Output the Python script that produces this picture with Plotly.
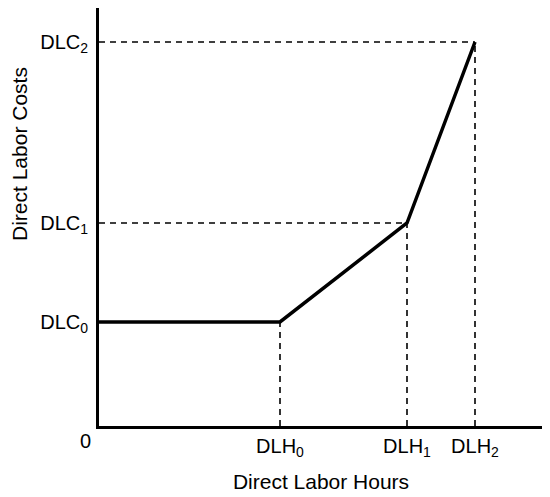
import plotly.graph_objects as go

# Read values (arbitrary units as drawn)
hours = [0, 181, 308, 376]
costs = [104, 104, 203, 384]
x_tick_labels = ["DLH<sub>0</sub>", "DLH<sub>1</sub>", "DLH<sub>2</sub>"]
y_tick_labels = ["DLC<sub>0</sub>", "DLC<sub>1</sub>", "DLC<sub>2</sub>"]
origin_label = "0"
x_title = "Direct Labor Hours"
y_title = "Direct Labor Costs"

FONT = "Liberation Sans, Arial, sans-serif"
TICK = 20
TITLE = 21

# page body has an 8px default margin; size the figure to fit the window
W, H = 542, 489
L, T = 91, 0
PW, PH = 444, 418

fig = go.Figure()

dash_style = dict(color="black", width=1.6, dash="6px,5px")
for i in (2, 3):
    fig.add_trace(go.Scatter(x=[0, hours[i]], y=[costs[i], costs[i]], mode="lines",
                             line=dash_style, hoverinfo="skip", showlegend=False))
for i in (1, 2, 3):
    fig.add_trace(go.Scatter(x=[hours[i], hours[i]], y=[0, costs[i]], mode="lines",
                             line=dash_style, hoverinfo="skip", showlegend=False))

fig.add_trace(go.Scatter(x=hours, y=costs, mode="lines",
                         line=dict(color="black", width=3.5), showlegend=False))

fig.add_annotation(x=0, y=0, text=origin_label, showarrow=False, xref="x", yref="y",
                   xshift=-14, yshift=-15, font=dict(size=TICK, family=FONT, color="black"))
fig.add_annotation(xref="paper", yref="paper", x=(11 - L) / PW, y=(PH - 146) / PH,
                   xanchor="center", yanchor="middle", borderpad=0,
                   text=y_title, textangle=-90, showarrow=False,
                   font=dict(size=TITLE, family=FONT, color="black"))

fig.update_layout(
    width=W, height=H,
    margin=dict(l=L, r=W - L - PW, t=T, b=H - T - PH, autoexpand=False),
    plot_bgcolor="white", paper_bgcolor="white",
    font=dict(family=FONT, size=TICK, color="black"),
    xaxis=dict(range=[0, 444], showgrid=False, zeroline=False, showline=True,
               linecolor="black", linewidth=3, tickvals=hours[1:], ticktext=x_tick_labels,
               ticks="", tickfont=dict(size=TICK), automargin=False,
               title=dict(text=x_title, font=dict(size=TITLE), standoff=16)),
    yaxis=dict(range=[0, 418], showgrid=False, zeroline=False, showline=True,
               linecolor="black", linewidth=3, tickvals=[costs[1], costs[2], costs[3]],
               ticktext=y_tick_labels, ticks="", tickfont=dict(size=TICK), automargin=False,
               ticklabelstandoff=4),
)

fig.write_html("out.html")
